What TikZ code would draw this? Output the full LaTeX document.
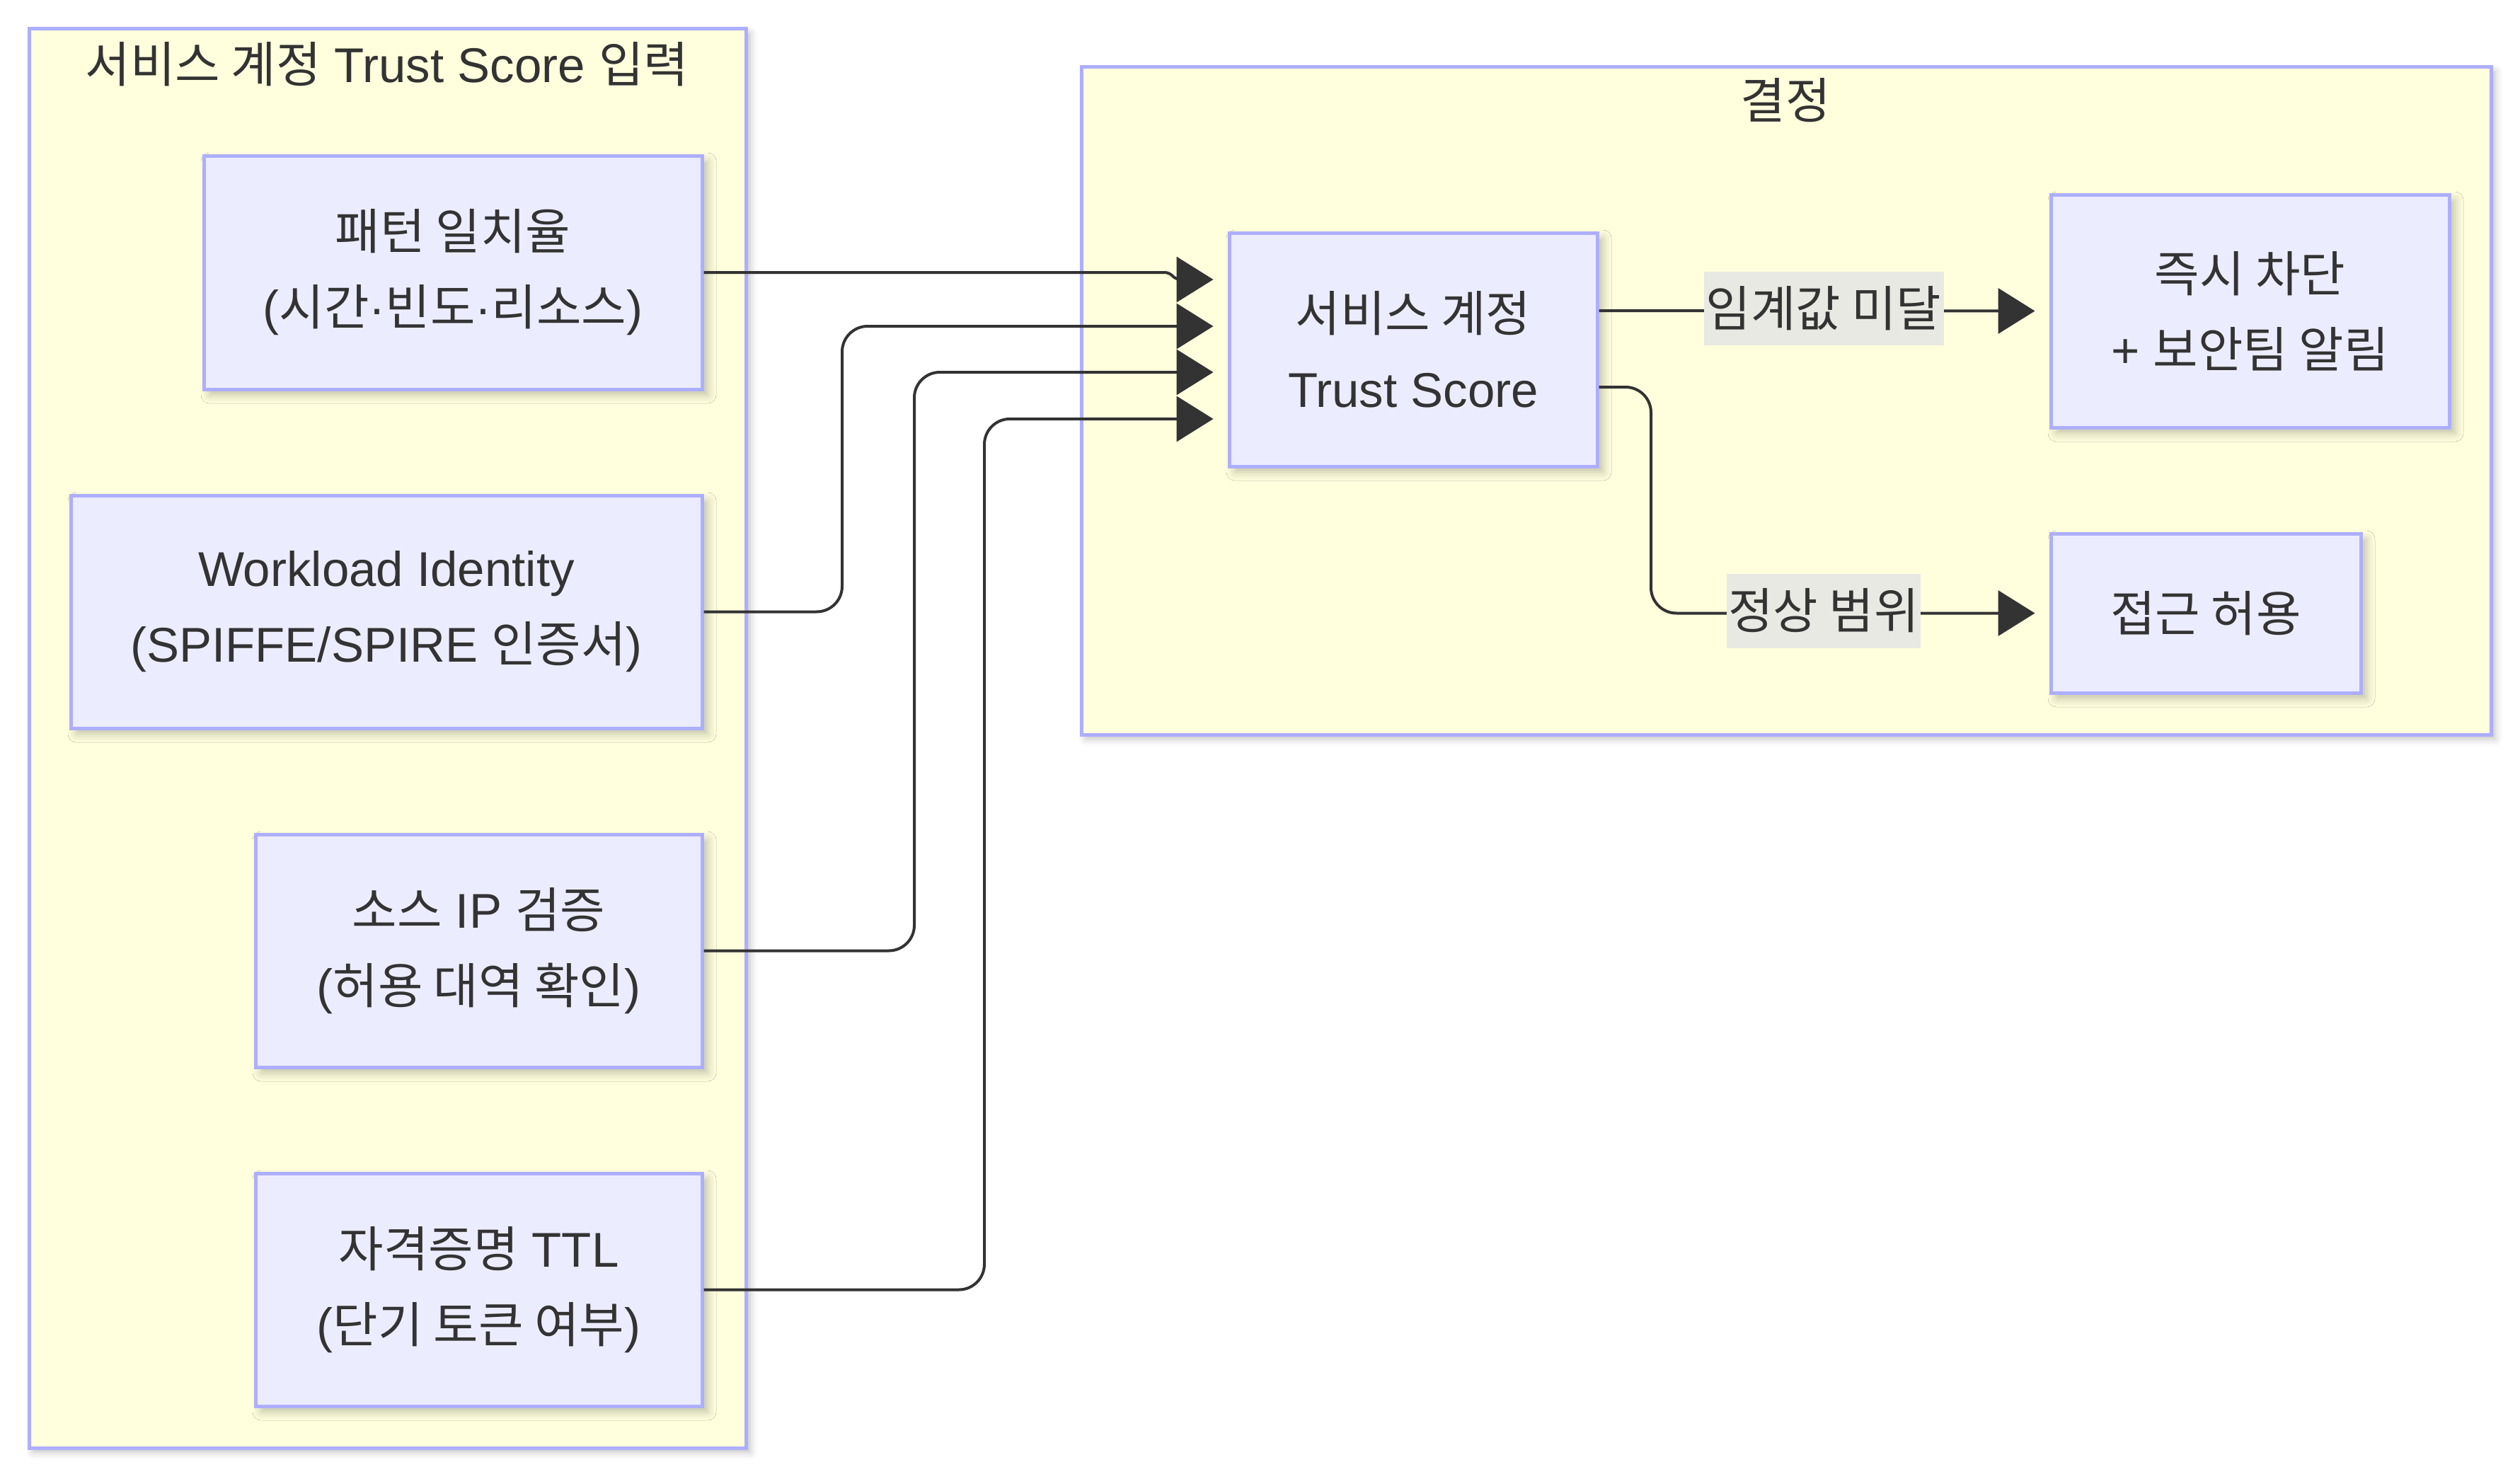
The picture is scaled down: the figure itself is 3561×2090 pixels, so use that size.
\documentclass[tikz,border=0pt]{standalone}
\usepackage{fontspec}
\setmainfont{Liberation Sans}
\newfontfamily\kr{Noto Sans CJK KR}
\usetikzlibrary{arrows.meta,calc,shadows.blur}
\definecolor{clfill}{HTML}{FFFFDE}
\definecolor{bord}{HTML}{AEAEFF}
\definecolor{ndfill}{HTML}{ECECFF}
\definecolor{txt}{HTML}{333333}
\definecolor{lblbg}{HTML}{E9E9E3}
\tikzset{
  cluster/.style={draw=bord, fill=clfill, line width=5pt, blur shadow={shadow xshift=6pt, shadow yshift=-6pt, shadow blur radius=10pt, shadow opacity=25}},
  box/.style={draw=bord, fill=ndfill, line width=5pt, inner sep=0pt, align=center, text=txt,
     blur shadow={shadow xshift=8pt, shadow yshift=-8pt, shadow blur radius=12pt, shadow opacity=25}},
  ttl/.style={text=txt, inner sep=0pt},
  edge/.style={draw=txt, line width=4pt, rounded corners=36pt, shorten >=20pt,
     -{Triangle[length=52pt,width=64pt]}},
  lbl/.style={fill=lblbg, text=txt, inner sep=0pt}
}
\begin{document}
\begin{tikzpicture}[x=1pt,y=-1pt,font=\fontsize{69}{107}\selectfont]
\useasboundingbox (0,0) rectangle (3561,2090);
% clusters
\path[cluster] (41,41) rectangle (1054,2046);
\node[ttl] (t1) at (547,91) {{\kr 서비스 계정} Trust Score {\kr 입력}};
\path[cluster] (1528,95) rectangle (3520,1038);
\node[ttl] (t2) at (2523,142) {\kr 결정};
% nodes
\node[box, minimum width=704pt, minimum height=330pt] (A) at (640,385)
  {{\kr 패턴 일치율}\\({\kr 시간}·{\kr 빈도}·{\kr 리소스})};
\node[box, minimum width=892pt, minimum height=329pt] (B) at (546,864.5)
  {Workload Identity\\(SPIFFE/SPIRE {\kr 인증서})};
\node[box, minimum width=631pt, minimum height=329pt] (C) at (676.5,1343.5)
  {{\kr 소스} IP {\kr 검증}\\({\kr 허용 대역 확인})};
\node[box, minimum width=631pt, minimum height=329pt] (D) at (676.5,1822.5)
  {{\kr 자격증명} TTL\\({\kr 단기 토큰 여부})};
\node[box, minimum width=520pt, minimum height=330pt] (T) at (1997,494)
  {{\kr 서비스 계정}\\Trust Score};
\node[box, minimum width=563pt, minimum height=329pt] (K) at (3179.5,439.5)
  {{\kr 즉시 차단}\\+ {\kr 보안팀 알림}};
\node[box, minimum width=438pt, minimum height=225pt] (L) at (3117,866.5)
  {\kr 접근 허용};
% edges in
\draw[edge, rounded corners=6pt] (A.east) -- (1652,385) -- (1662,395) -- ([yshift=99pt]T.west);
\draw[edge] (B.east) -- (1190,864.5) -- (1190,461) -- ([yshift=33pt]T.west);
\draw[edge] (C.east) -- (1292,1343.5) -- (1292,526) -- ([yshift=-32pt]T.west);
\draw[edge] (D.east) -- (1391,1822.5) -- (1391,592) -- ([yshift=-98pt]T.west);
% edges out
\draw[edge] ([yshift=55pt]T.east) -- (K.west);
\draw[edge] ([yshift=-53pt]T.east) -- (2333,547) -- (2333,866.5) -- (L.west);
\node[lbl, minimum width=339pt, minimum height=104pt] (l1) at (2577,436) {\kr 임계값 미달};
\node[lbl, minimum width=274pt, minimum height=105pt] (l2) at (2577,863) {\kr 정상 범위};
\end{tikzpicture}
\end{document}
